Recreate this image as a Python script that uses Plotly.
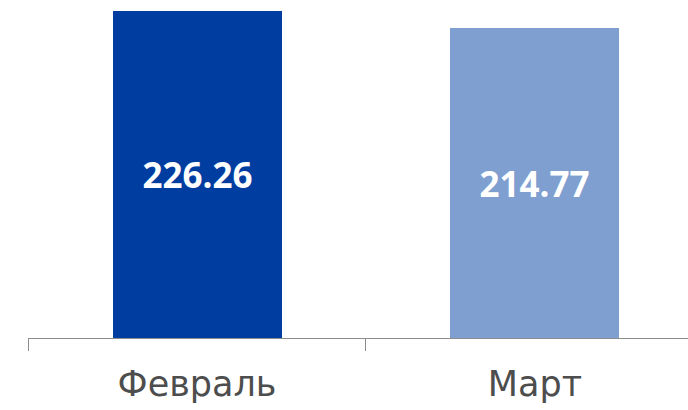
import plotly.graph_objects as go

months = ["Февраль", "Март"]
values = [226.26, 214.77]
colors = ["#003da0", "#7f9fd1"]

fig = go.Figure()
fig.add_trace(go.Bar(
    x=months,
    y=values,
    width=0.5,
    marker=dict(color=colors, line=dict(width=0)),
    text=[f"{v:.2f}" for v in values],
    textposition="inside",
    insidetextanchor="middle",
    textangle=0,
    textfont=dict(family="Open Sans", size=35, color="white", weight="bold"),
    cliponaxis=False,
))

fig.update_layout(
    width=688,
    height=410,
    margin=dict(l=28, r=0, t=0, b=72, autoexpand=False),
    paper_bgcolor="white",
    plot_bgcolor="white",
    showlegend=False,
    bargap=0,
    xaxis=dict(
        range=[-0.5, 1.4527],
        automargin=False,
        showline=True,
        linecolor="#8c8c8c",
        linewidth=1.3,
        ticks="outside",
        tickson="boundaries",
        ticklen=12,
        tickcolor="#8c8c8c",
        tickwidth=1.3,
        showgrid=False,
        tickfont=dict(family="DejaVu Sans", size=35, color="#4d4d4d"),
        ticklabelstandoff=15,
    ),
    yaxis=dict(
        range=[0, 233.9],
        visible=False,
        showgrid=False,
        zeroline=False,
        automargin=False,
    ),
)

# drop the browser's default page margin so the figure sits at 0,0
fig.write_html(
    "out.html",
    config={"displayModeBar": False},
    post_script="document.body.style.margin='0px';",
)
